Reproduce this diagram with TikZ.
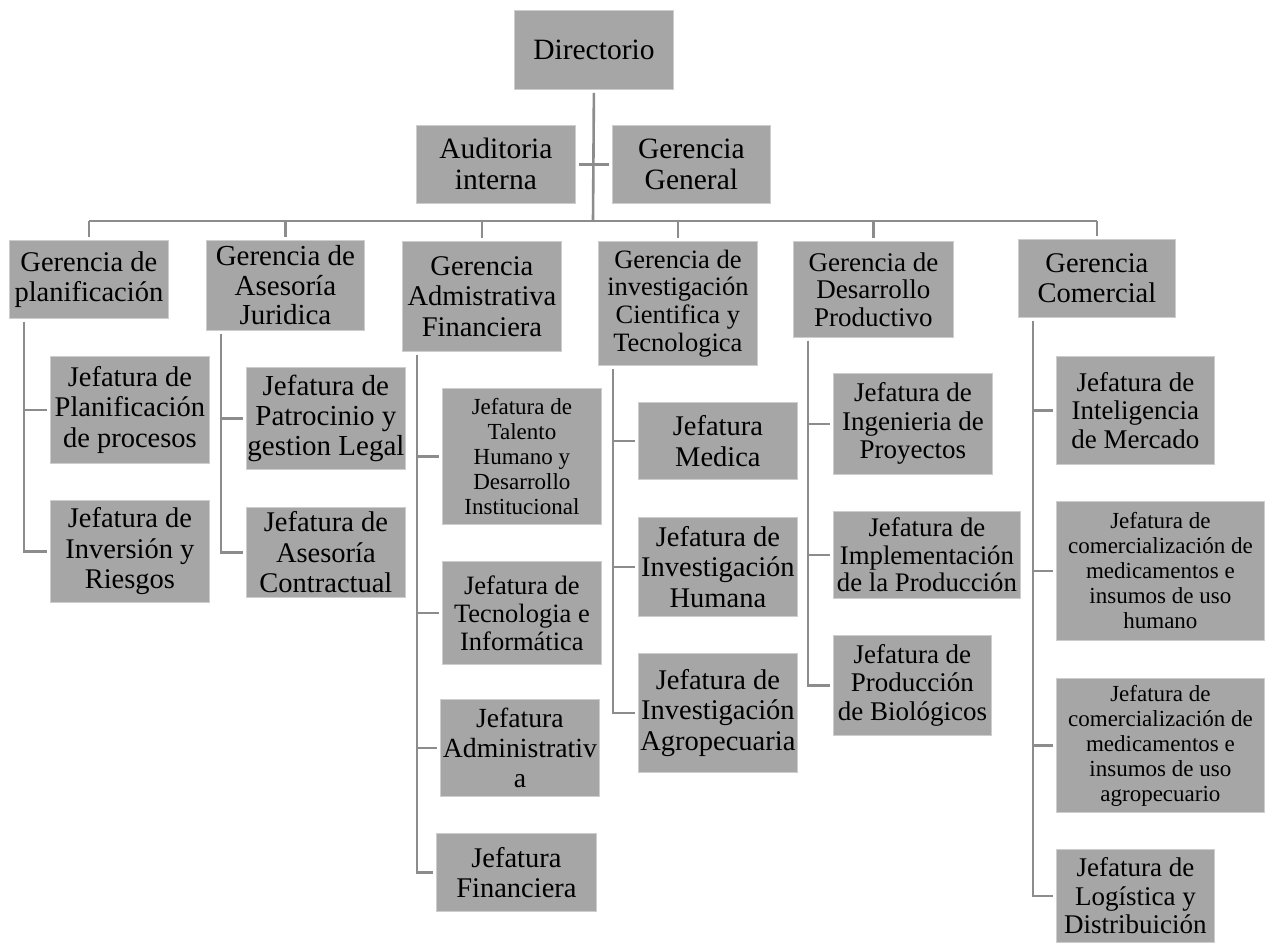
\documentclass[tikz,border=0pt]{standalone}
\usepackage{fontspec}
\setmainfont{Liberation Serif}
\definecolor{boxfill}{RGB}{166,166,166}
\definecolor{boxline}{RGB}{205,205,205}
\definecolor{connc}{RGB}{140,140,140}
\begin{document}
\begin{tikzpicture}[x=1pt,y=-1pt,
  box/.style={fill=boxfill,draw=boxline,line width=0.8pt,inner sep=0pt,anchor=north west,align=center,
    font=\fontsize{28.5}{30.5}\selectfont},
  big/.style={font=\fontsize{29.5}{31}\selectfont},
  sm/.style={font=\fontsize{23}{25}\selectfont},
  conn/.style={draw=connc,line width=2.6pt}]
\useasboundingbox[fill=white] (0,0) rectangle (1275,945);
% top
\node[box,big,minimum width=159pt,minimum height=79pt] (dir) at (514,10) {Directorio};
\node[box,big,minimum width=159pt,minimum height=78pt] (aud) at (416,125) {Auditoria\\interna};
\node[box,big,minimum width=158pt,minimum height=78pt] (gg) at (612,125) {Gerencia\\General};
% gerencias
\node[box,font=\fontsize{28.5}{30}\selectfont,minimum width=159pt,minimum height=78pt] (g1) at (9,240) {Gerencia de\\planificación};
\node[box,minimum width=158pt,minimum height=90pt,font=\fontsize{29}{29.5}\selectfont] (g2) at (206,240) {Gerencia de\\Asesoría\\Juridica};
\node[box,minimum width=159pt,minimum height=110pt] (g3) at (402,241) {Gerencia\\Admistrativa\\Financiera};
\node[box,minimum width=159pt,minimum height=124pt,font=\fontsize{26.5}{27.7}\selectfont] (g4) at (598,241) {Gerencia de\\investigación\\Cientifica y\\Tecnologica};
\node[box,minimum width=160pt,minimum height=96pt,font=\fontsize{27}{27.5}\selectfont] (g5) at (793,241) {Gerencia de\\Desarrollo\\Productivo};
\node[box,minimum width=157pt,minimum height=78pt] (g6) at (1018,239) {Gerencia\\Comercial};
% column 1
\node[box,minimum width=159pt,minimum height=107pt] (c1a) at (50,356) {Jefatura de\\Planificación\\de procesos};
\node[box,minimum width=159pt,minimum height=102pt] (c1b) at (50,500) {Jefatura de\\Inversión y\\Riesgos};
% column 2
\node[box,minimum width=159pt,minimum height=102pt,font=\fontsize{29}{30}\selectfont] (c2a) at (246,367) {Jefatura de\\Patrocinio y\\gestion Legal};
\node[box,minimum width=159pt,minimum height=90pt] (c2b) at (246,507) {Jefatura de\\Asesoría\\Contractual};
% column 3
\node[box,sm,minimum width=159pt,minimum height=136pt] (c3a) at (442,388) {Jefatura de\\Talento\\Humano y\\Desarrollo\\Institucional};
\node[box,minimum width=159pt,minimum height=103pt,font=\fontsize{26.5}{28}\selectfont] (c3b) at (442,561) {Jefatura de\\Tecnologia e\\Informática};
\node[box,minimum width=159pt,minimum height=97pt,font=\fontsize{27.7}{30}\selectfont] (c3c) at (440,699) {Jefatura\\Administrativ\\a};
\node[box,minimum width=160pt,minimum height=78pt] (c3d) at (436,833) {Jefatura\\Financiera};
% column 4
\node[box,minimum width=159pt,minimum height=77pt] (c4a) at (638,402) {Jefatura\\Medica};
\node[box,minimum width=159pt,minimum height=99pt] (c4b) at (638,517) {Jefatura de\\Investigación\\Humana};
\node[box,minimum width=159pt,minimum height=119pt] (c4c) at (638,653) {Jefatura de\\Investigación\\Agropecuaria};
% column 5
\node[box,minimum width=159pt,minimum height=101pt,font=\fontsize{27}{28.5}\selectfont] (c5a) at (833,373) {Jefatura de\\Ingenieria de\\Proyectos};
\node[box,minimum width=187pt,minimum height=87pt,font=\fontsize{26.8}{27.5}\selectfont] (c5b) at (833,511) {Jefatura de\\Implementación\\de la Producción};
\node[box,minimum width=158pt,minimum height=100pt,font=\fontsize{27}{28.5}\selectfont] (c5c) at (833,635) {Jefatura de\\Producción\\de Biológicos};
% column 6
\node[box,minimum width=158pt,minimum height=108pt,font=\fontsize{27}{28.5}\selectfont] (c6a) at (1056,356) {Jefatura de\\Inteligencia\\de Mercado};
\node[box,sm,minimum width=208pt,minimum height=139pt] (c6b) at (1056,501) {Jefatura de\\comercialización de\\medicamentos e\\insumos de uso\\humano};
\node[box,sm,minimum width=208pt,minimum height=134pt] (c6c) at (1056,678) {Jefatura de\\comercialización de\\medicamentos e\\insumos de uso\\agropecuario};
\node[box,minimum width=158pt,minimum height=93pt,font=\fontsize{27}{28.5}\selectfont] (c6d) at (1056,849) {Jefatura de\\Logística y\\Distribuición};
% connectors
\coordinate (busc) at (593,221);
\draw[conn] ([yshift=-3pt]dir.south) -- (busc);
\draw[conn] ([xshift=3pt]aud.east) -- ([xshift=-3pt]gg.west);
\draw[conn] (g1.north |- busc) -- (g6.north |- busc);
\foreach \g in {g1,g2,g3,g4,g5,g6}{
  \draw[conn] (\g.north |- busc) -- ([yshift=3pt]\g.north);
}
\foreach \p/\c in {g1/c1a,g1/c1b,g2/c2a,g2/c2b,g3/c3a,g3/c3b,g3/c3c,g3/c3d,g4/c4a,g4/c4b,g4/c4c,g5/c5a,g5/c5b,g5/c5c,g6/c6a,g6/c6b,g6/c6c,g6/c6d}{
  \draw[conn] ([xshift=15pt,yshift=-3pt]\p.south west) |- ([xshift=-3pt]\c.west);
}
\end{tikzpicture}
\end{document}
